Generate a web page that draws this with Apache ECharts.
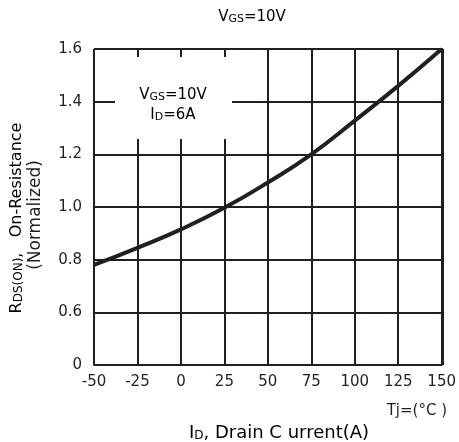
<!DOCTYPE html>
<html>
<head>
<meta charset="utf-8">
<script src="https://cdn.jsdelivr.net/npm/echarts@6/dist/echarts.min.js"></script>
<style>html,body{margin:0;padding:0;background:#fff;}#c{width:459px;height:442px;}</style>
</head>
<body>
<div id="c"></div>
<script>
// Data
var temperatures = [-50, -25, 0, 25, 50, 75, 100, 125, 150];
var rdsNormalized = [0.78, 0.845, 0.915, 0.997, 1.093, 1.2, 1.328, 1.46, 1.6];
var xTickLabels = ['-50', '-25', '0', '25', '50', '75', '100', '125', '150'];
var yTickValues = [0.4, 0.6, 0.8, 1.0, 1.2, 1.4, 1.6];
var yTickLabels = ['0', '0.6', '0.8', '1.0', '1.2', '1.4', '1.6'];

var FONT = 'DejaVu Sans';
var INK = '#231f20';
var chart = echarts.init(document.getElementById('c'));

var seriesData = temperatures.map(function (t, i) { return [t, rdsNormalized[i]]; });

function richStyle(big, small, lh) {
  return {
    n: { fontFamily: FONT, fontSize: big, color: INK, lineHeight: lh, verticalAlign: 'bottom' },
    s: { fontFamily: FONT, fontSize: small, color: INK, lineHeight: lh / 2, verticalAlign: 'bottom' }
  };
}
var subRich = richStyle(15, 11, 20);

chart.setOption({
  animation: false,
  backgroundColor: '#fff',
  grid: { left: 94, right: 16, top: 49, bottom: 77, containLabel: false },
  xAxis: {
    type: 'value', min: -50, max: 150, interval: 25,
    axisLine: { show: true, lineStyle: { color: INK, width: 2 } },
    axisTick: { show: false },
    splitLine: { show: true, lineStyle: { color: INK, width: 2 } },
    axisLabel: {
      fontFamily: FONT, fontSize: 15, color: INK, margin: 10,
      formatter: function (v) { var i = temperatures.indexOf(v); return i >= 0 ? xTickLabels[i] : ''; }
    }
  },
  yAxis: {
    type: 'value', min: 0.4, max: 1.6, interval: 0.2,
    axisLine: { show: true, lineStyle: { color: INK, width: 2 } },
    axisTick: { show: false },
    splitLine: { show: true, lineStyle: { color: INK, width: 2 } },
    axisLabel: {
      fontFamily: FONT, fontSize: 15, color: INK, margin: 12,
      formatter: function (v) {
        for (var i = 0; i < yTickValues.length; i++) {
          if (Math.abs(yTickValues[i] - v) < 1e-6) return yTickLabels[i];
        }
        return '';
      }
    }
  },
  series: [{
    type: 'line',
    data: seriesData,
    smooth: true,
    showSymbol: false,
    lineStyle: { color: INK, width: 4 },
    z: 5
  }],
  graphic: [
    { type: 'line', z: 10, shape: { x1: 443, y1: 49, x2: 443, y2: 365 }, style: { stroke: INK, lineWidth: 2 } },
    { type: 'line', z: 10, shape: { x1: 94, y1: 49, x2: 443, y2: 49 }, style: { stroke: INK, lineWidth: 2 } },
    { type: 'rect', z: 20, shape: { x: 115, y: 57, width: 117, height: 82 }, style: { fill: '#fff' } },
    { type: 'text', z: 21, x: 173, y: 93, style: {
        text: '{n|V}{s|GS}{n|=10V}', rich: subRich, align: 'center', verticalAlign: 'middle' } },
    { type: 'text', z: 21, x: 173, y: 113, style: {
        text: '{n|I}{s|D}{n|=6A}', rich: subRich, align: 'center', verticalAlign: 'middle' } },
    { type: 'text', z: 21, x: 252, y: 15, style: {
        text: '{n|V}{s|GS}{n|=10V}', rich: subRich, align: 'center', verticalAlign: 'middle' } },
    { type: 'text', z: 21, x: 14, y: 218, rotation: Math.PI / 2, style: {
        text: '{n|R}{s|DS(ON)}{n|,   On-Resistance}', rich: richStyle(16, 12, 22), align: 'center', verticalAlign: 'middle' } },
    { type: 'text', z: 21, x: 36, y: 215, rotation: Math.PI / 2, style: {
        text: '(Normalized)', align: 'center', verticalAlign: 'middle',
        fontFamily: FONT, fontSize: 17, fill: INK } },
    { type: 'text', z: 21, x: 447, y: 411, style: {
        text: 'Tj=(°C )', align: 'right', verticalAlign: 'middle',
        fontFamily: FONT, fontSize: 15, fill: INK } },
    { type: 'text', z: 21, x: 279, y: 430, style: {
        text: '{n|I}{s|D}{n|, Drain C urrent(A)}', rich: richStyle(18, 12, 24), align: 'center', verticalAlign: 'middle' } }
  ]
});
</script>
</body>
</html>
